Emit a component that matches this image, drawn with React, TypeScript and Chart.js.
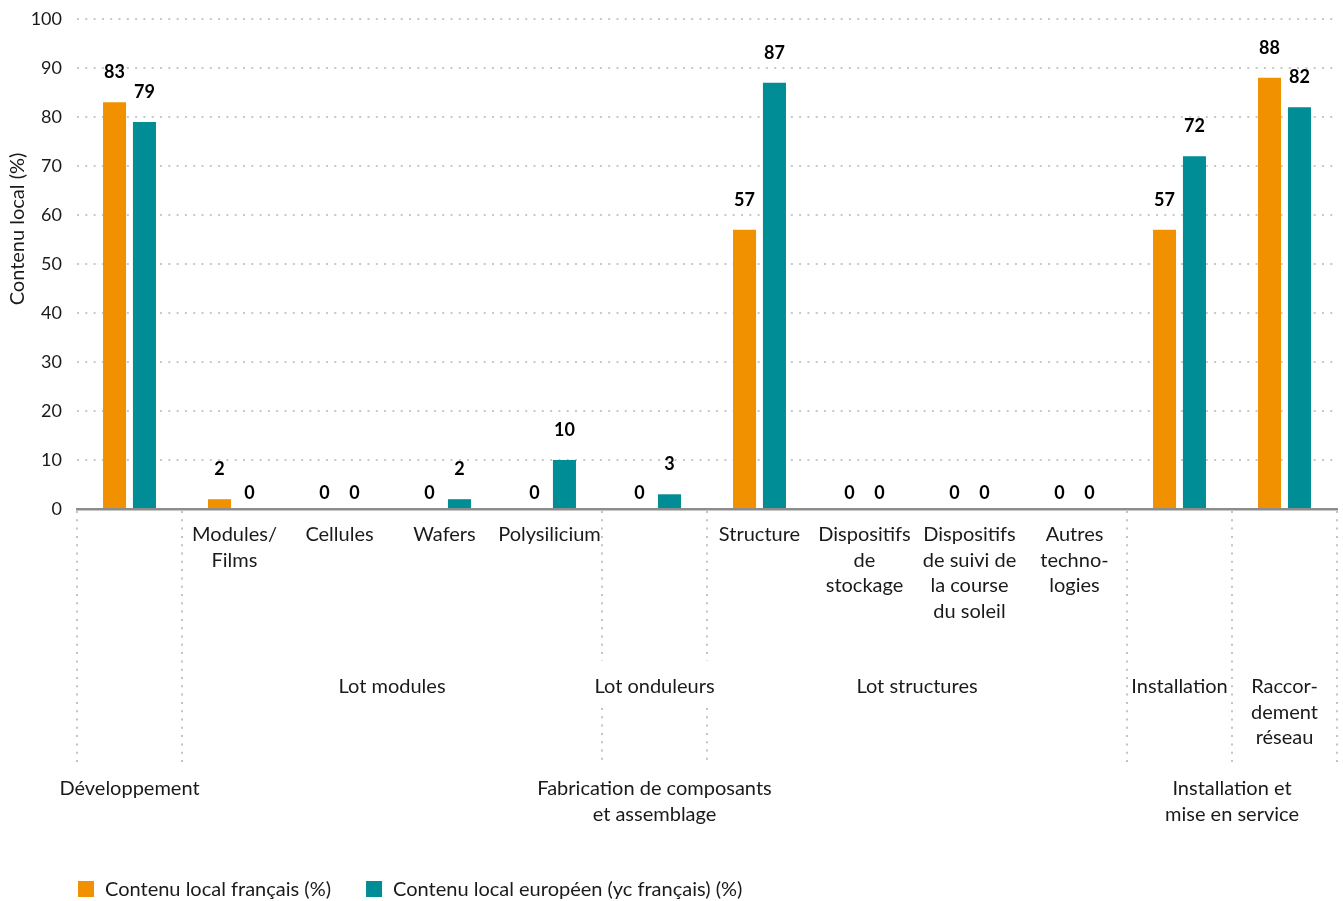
import React, { useEffect, useRef } from 'react';
import { Chart, registerables } from 'chart.js';

Chart.register(...registerables);

const FONT = 'Lato, "Noto Sans", sans-serif';

// Leaf categories (one per bar pair)
const categories = [
  'Développement',
  'Modules/Films',
  'Cellules',
  'Wafers',
  'Polysilicium',
  'Onduleurs',
  'Structure',
  'Dispositifs de stockage',
  'Dispositifs de suivi de la course du soleil',
  'Autres technologies',
  'Installation',
  'Raccordement réseau',
];

// Level-1 axis labels (as displayed, line by line)
const level1Labels: string[][] = [
  [],
  ['Modules/', 'Films'],
  ['Cellules'],
  ['Wafers'],
  ['Polysilicium'],
  [],
  ['Structure'],
  ['Dispositifs', 'de', 'stockage'],
  ['Dispositifs', 'de suivi de', 'la course', 'du soleil'],
  ['Autres', 'techno-', 'logies'],
  [],
  [],
];

// Level-2 groups: [first index, last index, lines]
const level2Groups: [number, number, string[]][] = [
  [1, 4, ['Lot modules']],
  [5, 5, ['Lot onduleurs']],
  [6, 9, ['Lot structures']],
  [10, 10, ['Installation']],
  [11, 11, ['Raccor-', 'dement', 'réseau']],
];

// Level-3 groups
const level3Groups: [number, number, string[]][] = [
  [0, 0, ['Développement']],
  [1, 9, ['Fabrication de composants', 'et assemblage']],
  [10, 11, ['Installation et', 'mise en service']],
];

// Separator boundaries (category boundary index) and whether they have a gap
const separators: [number, boolean][] = [
  [0, false],
  [1, false],
  [5, true],
  [6, true],
  [10, false],
  [11, false],
  [12, false],
];

const seriesNames = ['Contenu local français (%)', 'Contenu local européen (yc français) (%)'];
const frenchValues = [83, 2, 0, 0, 0, 0, 57, 0, 0, 0, 57, 88];
const europeanValues = [79, 0, 0, 2, 10, 3, 87, 0, 0, 0, 72, 82];
const seriesColors = ['#F29100', '#008D95'];

const yTicks = { min: 0, max: 100, step: 10 };
const yTitle = 'Contenu local (%)';

const TEXT = '#1a1a1a';

const overlayPlugin = {
  id: 'overlay',
  afterDatasetsDraw(chart: any) {
    const { ctx } = chart;
    const x = chart.scales.x;
    const y = chart.scales.y;
    const area = chart.chartArea;
    ctx.save();

    // data labels
    ctx.font = `bold 18px ${FONT}`;
    ctx.fillStyle = '#000';
    ctx.textAlign = 'center';
    ctx.textBaseline = 'middle';
    chart.data.datasets.forEach((ds: any, di: number) => {
      const meta = chart.getDatasetMeta(di);
      meta.data.forEach((bar: any, i: number) => {
        const v = ds.data[i];
        const top = y.getPixelForValue(v);
        const off = v > 0 ? 30 : 16;
        ctx.fillText(String(v), bar.x, top - off);
      });
    });

    // separators
    ctx.strokeStyle = '#c4c4c4';
    ctx.lineWidth = 2;
    ctx.setLineDash([2, 6.3]);
    const base = area.bottom + 2;
    separators.forEach(([k, gap]) => {
      const px = Math.round(x.getPixelForValue(k - 0.5));
      ctx.beginPath();
      if (gap) {
        ctx.moveTo(px, base);
        ctx.lineTo(px, 661);
        ctx.moveTo(px, 708);
        ctx.lineTo(px, 763);
      } else {
        ctx.moveTo(px, base);
        ctx.lineTo(px, 763);
      }
      ctx.stroke();
    });
    ctx.setLineDash([]);

    // axis labels
    ctx.font = `20px ${FONT}`;
    ctx.fillStyle = TEXT;
    const lh = 25.5;
    level1Labels.forEach((lines, i) => {
      const cx = x.getPixelForValue(i);
      lines.forEach((t, j) => ctx.fillText(t, cx, 535 + j * lh));
    });
    level2Groups.forEach(([a, b, lines]) => {
      const cx = (x.getPixelForValue(a - 0.5) + x.getPixelForValue(b + 0.5)) / 2;
      lines.forEach((t, j) => ctx.fillText(t, cx, 687 + j * lh));
    });
    level3Groups.forEach(([a, b, lines]) => {
      const cx = (x.getPixelForValue(a - 0.5) + x.getPixelForValue(b + 0.5)) / 2;
      lines.forEach((t, j) => ctx.fillText(t, cx, 789 + j * lh));
    });

    // y title
    ctx.save();
    ctx.translate(18, 229);
    ctx.rotate(-Math.PI / 2);
    ctx.fillText(yTitle, 0, 0);
    ctx.restore();

    // legend
    let lx = 78;
    const ly = 889;
    ctx.textAlign = 'left';
    chart.data.datasets.forEach((ds: any) => {
      ctx.fillStyle = ds.backgroundColor;
      ctx.fillRect(lx, ly - 8, 16, 16);
      ctx.fillStyle = TEXT;
      ctx.fillText(ds.label, lx + 27, ly + 1);
      lx += 27 + ctx.measureText(ds.label).width + 35;
    });

    ctx.restore();
  },
};

export default function App() {
  const ref = useRef<HTMLCanvasElement | null>(null);
  useEffect(() => {
    if (!ref.current) return;
    const chart = new Chart(ref.current, {
      type: 'bar',
      data: {
        labels: categories,
        datasets: [
          {
            label: seriesNames[0],
            data: frenchValues,
            backgroundColor: seriesColors[0],
            categoryPercentage: 0.57,
            barPercentage: 0.77,
          },
          {
            label: seriesNames[1],
            data: europeanValues,
            backgroundColor: seriesColors[1],
            categoryPercentage: 0.57,
            barPercentage: 0.77,
          },
        ],
      },
      options: {
        animation: false,
        responsive: true,
        maintainAspectRatio: false,
        layout: { padding: { top: 19, right: 6, left: 0, bottom: 0 } },
        plugins: {
          legend: { display: false },
          tooltip: { enabled: false },
        },
        scales: {
          x: {
            ticks: { display: false },
            grid: { display: false },
            border: { display: true, color: '#8c8c8c', width: 2.5 },
            afterFit: (s: any) => {
              s.height = 392;
              s.paddingTop = 0;
              s.paddingBottom = 0;
            },
          },
          y: {
            min: yTicks.min,
            max: yTicks.max,
            ticks: {
              stepSize: yTicks.step,
              padding: 15,
              color: TEXT,
              font: { family: FONT, size: 18 },
            },
            grid: {
              color: '#c8c8c8',
              lineWidth: 2,
              drawTicks: false,
            },
            border: { display: false, dash: [2, 6.3] },
            afterFit: (s: any) => {
              s.width = 77;
              s.paddingTop = 0;
              s.paddingBottom = 0;
            },
          },
        },
      },
      plugins: [overlayPlugin],
    });
    return () => chart.destroy();
  }, []);
  return (
    <div style={{ position: 'fixed', left: 0, top: 0, width: 1343, height: 901 }}>
      <canvas ref={ref} />
    </div>
  );
}
